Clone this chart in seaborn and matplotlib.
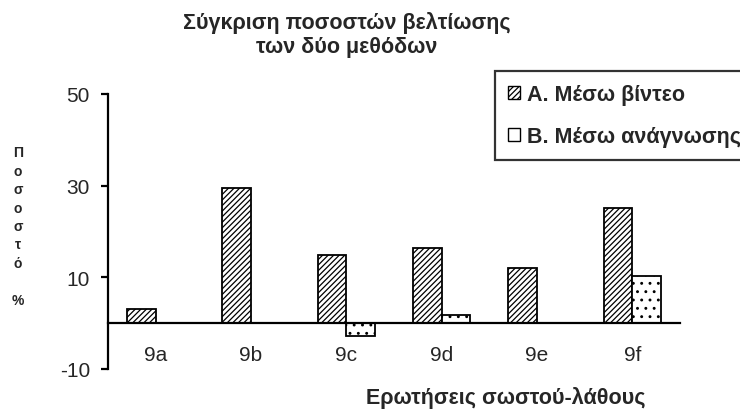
import numpy as np
import pandas as pd
import seaborn as sns
import matplotlib.pyplot as plt
import matplotlib.patches as mpatches

# DATOS
categorias = ["9a", "9b", "9c", "9d", "9e", "9f"]
metodo_a = [3.0, 29.5, 14.8, 16.3, 12.0, 25.2]
metodo_b = [0.0, 0.0, -2.8, 1.7, 0.0, 10.2]
series = ["A. Μέσω βίντεο", "B. Μέσω ανάγνωσης"]
y_ticks = [-10, 10, 30, 50]

df = pd.DataFrame({
    "pregunta": categorias * 2,
    "valor": metodo_a + metodo_b,
    "metodo": [series[0]] * len(categorias) + [series[1]] * len(categorias),
})

sns.set_style("white")
plt.rcParams["font.family"] = ["Liberation Sans", "DejaVu Sans"]
plt.rcParams["hatch.linewidth"] = 0.9
plt.rcParams["axes.unicode_minus"] = False

fig = plt.figure(figsize=(7.4, 4.14), dpi=100)
ax = fig.add_axes([108 / 740, 1 - 370 / 414, (680 - 108) / 740, (370 - 95) / 414])

sns.barplot(data=df, x="pregunta", y="valor", hue="metodo", ax=ax,
            width=0.6, gap=0, palette=["white", "white"],
            edgecolor="black", linewidth=1.3, legend=False)

# RAYADO DE LAS BARRAS
for cont, h in zip(ax.containers, ["//////", ".."]):
    for p in cont:
        p.set_hatch(h)

# EJES
ax.set_ylim(-10, 50)
ax.set_xlim(-0.5, len(categorias) - 0.5)
ax.set_yticks(y_ticks)
ax.spines["top"].set_visible(False)
ax.spines["right"].set_visible(False)
ax.spines["bottom"].set_position(("data", 0))
for s in ["left", "bottom"]:
    ax.spines[s].set_linewidth(1.6)
    ax.spines[s].set_color("black")

ax.set_xticks(np.arange(len(categorias) + 1) - 0.5)
ax.set_xticklabels([])
ax.set_xticks(np.arange(len(categorias)), minor=True)
ax.set_xticklabels(categorias, minor=True)
ax.tick_params(axis="x", which="major", direction="out", length=5, width=1.6, color="black")
ax.tick_params(axis="x", which="minor", length=0, pad=16, labelsize=15)
ax.tick_params(axis="y", direction="out", length=5, width=1.6, color="black", labelsize=15, left=True, pad=8)
ax.set_xlabel("")
ax.set_ylabel("")

# TEXTOS
fig.text(347 / 740, 1 - 35 / 414, "Σύγκριση ποσοστών βελτίωσης\nτων δύο μεθόδων",
         ha="center", va="center", fontsize=15.5, fontweight="bold", linespacing=1.25)
fig.text(506 / 740, 1 - 398 / 414, "Ερωτήσεις σωστού-λάθους",
         ha="center", va="center", fontsize=15.5, fontweight="bold")
fig.text(18 / 740, 1 - 227 / 414, "\n".join(list("Ποσοστό") + ["", "%"]),
         ha="center", va="center", fontsize=10, fontweight="bold", linespacing=1.4)

# LEYENDA
handles = [mpatches.Patch(facecolor="white", edgecolor="black", hatch="//////", label=series[0]),
           mpatches.Patch(facecolor="white", edgecolor="black", label=series[1])]
leg = fig.legend(handles=handles, loc="upper left", bbox_to_anchor=(495 / 740, 1 - 72 / 414),
                 prop={"weight": "bold", "size": 15.5}, frameon=True, fancybox=False,
                 handlelength=0.55, handleheight=0.55, handletextpad=0.35,
                 labelspacing=1.0, borderpad=0.6, borderaxespad=0)
leg.get_frame().set_edgecolor("black")
leg.get_frame().set_linewidth(1.6)

fig.savefig("out.png", dpi=100)
